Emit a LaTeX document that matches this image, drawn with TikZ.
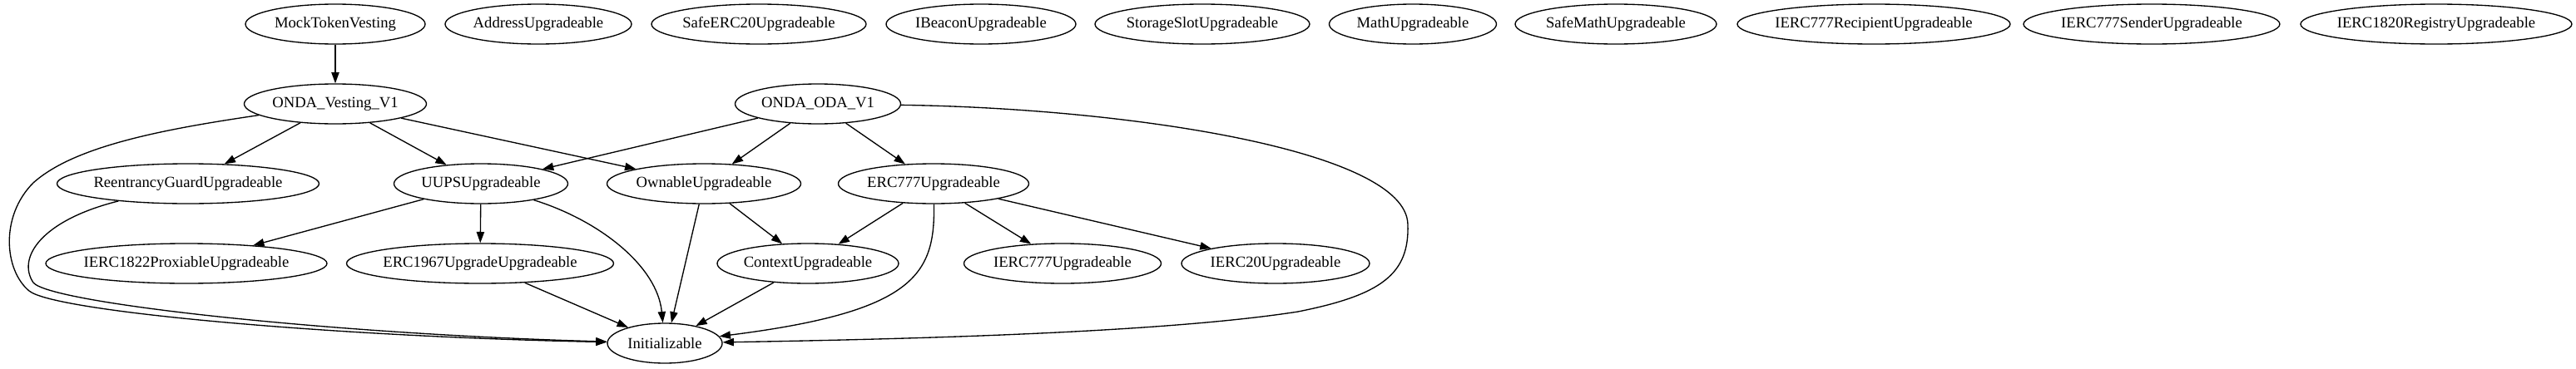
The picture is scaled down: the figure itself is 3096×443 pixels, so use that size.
\documentclass[tikz,border=0pt]{standalone}
\usepackage{fontspec}
\setmainfont{Liberation Serif}
\usetikzlibrary{shapes.geometric,arrows.meta}
\newcommand\lbl[1]{\makebox[0pt]{#1}}
\begin{document}
\begin{tikzpicture}[x=0.75pt,y=-0.75pt,
  nd/.style={draw, ellipse, line width=1pt, inner sep=0pt, minimum height=36pt,
    font=\fontsize{14}{16}\selectfont},
  ew/.style={minimum width=#1*0.75pt},
  ed/.style={line width=1pt, -{Triangle[length=10pt,width=7pt]}}]
\useasboundingbox (0,0) rectangle (3096,443);
\fill[white] (0,0) rectangle (3096,443);
% row 1
\node[nd,ew=216] (mtv) at (403,29) {\lbl{MockTokenVesting}};
\node[nd,ew=224] (addr) at (647,29) {\lbl{AddressUpgradeable}};
\node[nd,ew=258] (safe) at (912,29) {\lbl{SafeERC20Upgradeable}};
\node[nd,ew=228] (beacon) at (1179,29) {\lbl{IBeaconUpgradeable}};
\node[nd,ew=258] (slot) at (1445,29) {\lbl{StorageSlotUpgradeable}};
\node[nd,ew=201] (math) at (1698,29) {\lbl{MathUpgradeable}};
\node[nd,ew=242] (smath) at (1942,29) {\lbl{SafeMathUpgradeable}};
\node[nd,ew=328] (recip) at (2252,29) {\lbl{IERC777RecipientUpgradeable}};
\node[nd,ew=308] (sender) at (2586,29) {\lbl{IERC777SenderUpgradeable}};
\node[nd,ew=326] (reg) at (2928,29) {\lbl{IERC1820RegistryUpgradeable}};
% row 2
\node[nd,ew=219] (ov) at (403,125) {\lbl{ONDA\_Vesting\_V1}};
\node[nd,ew=199] (oda) at (983,125) {\lbl{ONDA\_ODA\_V1}};
% row 3
\node[nd,ew=315] (rg) at (226,221) {\lbl{ReentrancyGuardUpgradeable}};
\node[nd,ew=209] (uups) at (578,221) {\lbl{UUPSUpgradeable}};
\node[nd,ew=233] (own) at (846,221) {\lbl{OwnableUpgradeable}};
\node[nd,ew=229] (erc) at (1122,221) {\lbl{ERC777Upgradeable}};
% row 4
\node[nd,ew=338] (prox) at (224,317) {\lbl{IERC1822ProxiableUpgradeable}};
\node[nd,ew=321] (e1967) at (577,317) {\lbl{ERC1967UpgradeUpgradeable}};
\node[nd,ew=218] (ctx) at (971,317) {\lbl{ContextUpgradeable}};
\node[nd,ew=237] (i777) at (1277,317) {\lbl{IERC777Upgradeable}};
\node[nd,ew=226] (i20) at (1533,317) {\lbl{IERC20Upgradeable}};
% row 5
\node[nd,ew=138] (init) at (799,413) {\lbl{Initializable}};
% edges
\draw[ed] (mtv) -- (ov);
\draw[ed] (ov) .. controls (200,155) and (90,175) .. (40,220)
  .. controls (0,260) and (5,325) .. (35,350)
  .. controls (65,375) and (400,405) .. (init);
\draw[ed] (ov) -- (rg);
\draw[ed] (ov) -- (uups);
\draw[ed] (ov) -- (own);
\draw[ed] (oda) -- (uups);
\draw[ed] (oda) -- (own);
\draw[ed] (oda) -- (erc);
\draw[ed] (oda) .. controls (1350,130) and (1690,180) .. (1692,270)
  .. controls (1694,330) and (1660,355) .. (1560,375)
  .. controls (1400,400) and (1100,408) .. (init);
\draw[ed] (rg) .. controls (50,265) and (20,310) .. (40,340)
  .. controls (60,365) and (400,402) .. (init);
\draw[ed] (uups) -- (prox);
\draw[ed] (uups) -- (e1967);
\draw[ed] (uups) .. controls (720,265) and (790,320) .. (init);
\draw[ed] (own) -- (init.72);
\draw[ed] (own) -- (ctx);
\draw[ed] (erc) -- (ctx);
\draw[ed] (erc) .. controls (1124,330) and (1100,375) .. (init);
\draw[ed] (erc) -- (i777);
\draw[ed] (erc) -- (i20);
\draw[ed] (e1967) -- (init);
\draw[ed] (ctx) -- (init);
\end{tikzpicture}
\end{document}
